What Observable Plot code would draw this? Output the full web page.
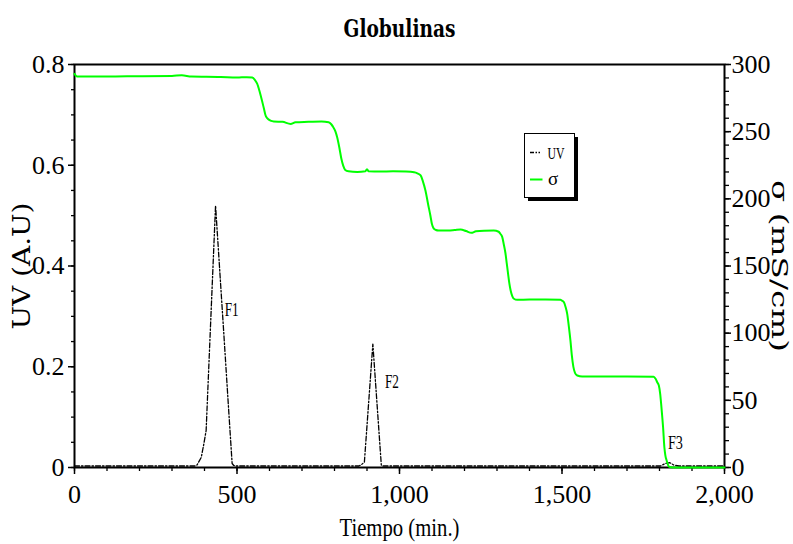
<!DOCTYPE html>
<html>
<head>
<meta charset="utf-8">
<script src="https://cdn.jsdelivr.net/npm/d3@7"></script>
<script src="https://cdn.jsdelivr.net/npm/@observablehq/plot@0.6"></script>
<style>
  html, body { margin: 0; padding: 0; background: #fff; }
  #wrap { position: relative; width: 793px; height: 544px; overflow: hidden; }
  #legend { position: absolute; left: 524px; top: 133px; }
</style>
</head>
<body>
<div id="wrap"></div>
<script>
// ---------- data ----------
const chartTitle = "Globulinas";
const xLabel = "Tiempo (min.)";
const yLeftLabel = "UV (A.U)";
const yRightLabel = "σ (mS/cm)";

const xMajorTicks = [0, 500, 1000, 1500, 2000];
const uvMajorTicks = [0, 0.2, 0.4, 0.6, 0.8];
const sigmaMajorTicks = [0, 50, 100, 150, 200, 250, 300];
const uvMax = 0.8;
const sigmaMax = 300;

// UV absorbance (dash-dot black)
const uvTime  = [0, 370, 377, 390, 398, 405, 434, 447, 460, 472, 485, 490, 497,
                 875, 882, 892, 918, 944, 948,
                 1790, 1803, 1818, 1832, 1844, 1860, 2000];
const uvValue = [0.003, 0.003, 0.005, 0.02, 0.047, 0.073, 0.52, 0.39, 0.26, 0.138, 0.008, 0.004, 0.003,
                 0.003, 0.005, 0.011, 0.245, 0.005, 0.003,
                 0.003, 0.003, 0.008, 0.0095, 0.005, 0.003, 0.003];

// Conductivity σ (green), mS/cm
const sigmaTime  = [0, 8, 100, 200, 300, 330, 360, 450, 500, 530, 547, 555, 562, 570, 577, 583, 588, 593, 598, 605, 613,
                    640, 665, 680, 720, 760, 782, 790, 797, 803, 808, 815, 821, 827, 833, 843,
                    870, 895, 900, 905, 940, 980, 1020, 1045, 1055, 1065, 1072, 1080, 1088, 1095, 1100, 1105, 1112, 1120,
                    1150, 1170, 1188, 1205, 1221, 1235, 1260, 1290, 1305, 1310, 1316, 1321, 1326, 1330, 1334, 1338, 1342, 1347, 1352, 1362,
                    1400, 1450, 1495, 1500, 1506, 1511, 1516, 1521, 1526, 1530, 1535, 1540, 1547, 1562,
                    1620, 1700, 1782, 1788, 1793, 1798, 1802, 1805, 1808, 1811, 1815, 1818, 1822, 1829, 1840, 1900, 2000];
const sigmaValue = [293, 291, 291, 291.3, 291.5, 292, 291, 290.7, 290.3, 290.6, 290.3, 288.5, 285.7, 279.5, 273, 267, 262, 260, 259, 258, 257.6,
                    257.3, 255.8, 257, 257.3, 257.6, 257, 255.5, 253, 250, 246, 238, 230, 224.5, 221.5, 220.5,
                    220, 220.5, 222, 220.5, 220.3, 220.5, 220.3, 219.8, 219, 217.4, 213, 206, 196, 187.6, 181, 178, 176.8, 176.4,
                    176.4, 176.8, 177.2, 176, 174.7, 175.8, 176.3, 176.4, 175.5, 174, 171.7, 166, 159.5, 152, 144.4, 137, 131.7, 127.5, 125.6, 124.8,
                    125, 125, 124.8, 124.2, 123, 119.5, 114.4, 105, 94.5, 84, 74.9, 70.5, 68.5, 67.7,
                    67.7, 67.7, 67.5, 66, 63.5, 61, 55, 47.6, 39, 30, 15.1, 9, 5.2, 0.7, 0, 0, 0];

// peak annotations
const peakLabels = ["F1", "F2", "F3"];
const peakTime   = [462, 955, 1826];
const peakValue  = [0.312, 0.169, 0.049];

// ---------- build ----------
const k = uvMax / sigmaMax; // sigma -> left-axis units
const uvData = uvTime.map((t, i) => ({t, v: uvValue[i]}));
const sigmaData = sigmaTime.map((t, i) => ({t, s: sigmaValue[i]}));
const peakData = peakLabels.map((name, i) => ({name, t: peakTime[i], v: peakValue[i]}));

const xMinor = d3.range(0, 2001, 100);
const uvMinor = d3.range(0, 0.8001, 0.05);
const sigmaMinor = d3.range(0, 301, 10);

const serif = "'Liberation Serif', 'Times New Roman', serif";
const wide = "'DejaVu Serif', serif";
const centered = {textAnchor: "middle", lineAnchor: "middle", fill: "black"};

const chart = Plot.plot({
  width: 793,
  height: 544,
  marginTop: 64,
  marginRight: 69,
  marginBottom: 77,
  marginLeft: 74,
  style: {fontFamily: serif, background: "white", color: "black", overflow: "visible"},
  x: {domain: [0, 2000], label: null},
  y: {domain: [0, uvMax], label: null},
  marks: [
    Plot.axisX({ticks: xMinor, tickSize: 4, tickFormat: () => "", label: null, strokeWidth: 1.3, strokeOpacity: 1}),
    Plot.axisX({ticks: xMajorTicks, tickSize: 7, tickPadding: 10, tickFormat: d3.format(","), fontSize: 26, label: null, strokeWidth: 1.5, strokeOpacity: 1}),
    Plot.axisY({anchor: "left", ticks: uvMinor, tickSize: 3, tickFormat: () => "", label: null, strokeWidth: 1.3, strokeOpacity: 1}),
    Plot.axisY({anchor: "left", ticks: uvMajorTicks, tickSize: 6, tickPadding: 4, fontSize: 26, label: null, strokeWidth: 1.5, strokeOpacity: 1,
                tickFormat: d => d === 0 ? "0" : d3.format(".1f")(d)}),
    Plot.axisY({anchor: "right", ticks: sigmaMinor.map(s => s * k), tickSize: 4, tickFormat: () => "", label: null, strokeWidth: 1.3, strokeOpacity: 1}),
    Plot.axisY({anchor: "right", ticks: sigmaMajorTicks.map(s => s * k), tickSize: 6, tickPadding: 1, fontSize: 26, label: null, strokeWidth: 1.5, strokeOpacity: 1,
                tickFormat: d => String(Math.round(d / k))}),
    Plot.frame({stroke: "black", strokeWidth: 2}),
    Plot.line(uvData, {x: "t", y: "v", stroke: "black", strokeWidth: 1.3, strokeDasharray: "5,2,1.5,2"}),
    Plot.line(sigmaData, {x: "t", y: d => d.s * k, stroke: "#00ff00", strokeWidth: 2, curve: "monotone-x"}),
    Plot.text(peakData, {x: "t", y: "v", text: "name", textAnchor: "start", lineAnchor: "middle", fontSize: 19, fontFamily: serif, fill: "black"}),
    Plot.text([chartTitle], {...centered, frameAnchor: "top", dy: -35, text: d => d, fontSize: 24, fontWeight: "bold", fontFamily: wide}),
    Plot.text([xLabel], {...centered, frameAnchor: "bottom", dy: 60, text: d => d, fontSize: 26, fontFamily: serif}),
    Plot.text([yLeftLabel], {...centered, frameAnchor: "left", dx: -52, rotate: -90, text: d => d, fontSize: 24, fontFamily: wide}),
    Plot.text([yRightLabel], {...centered, frameAnchor: "right", dx: 55, rotate: 90, text: d => d, fontSize: 22, fontFamily: wide})
  ]
});

document.getElementById("wrap").appendChild(chart);

// scale some labels horizontally (about their anchor point) to match the reference text extents
function fitWidth(el, target) {
  const natural = el.getComputedTextLength();
  if (!natural) return;
  const s = target / natural;
  const xs = el.x.baseVal;
  const ax = xs.numberOfItems ? xs.getItem(0).value : 0;
  const t = el.getAttribute("transform") || "";
  el.setAttribute("transform", `${t} translate(${ax},0) scale(${s},1) translate(${-ax},0)`);
}
const widths = {"Globulinas": 112, "UV (A.U)": 127, "σ (mS/cm)": 172, "Tiempo (min.)": 120, "F1": 14, "F2": 14, "F3": 15};
d3.select(chart).selectAll("text").each(function () {
  const txt = this.textContent;
  if (widths[txt] != null) fitWidth(this, widths[txt]);
});

// legend (box with drop shadow)
const legend = d3.select("#wrap").append("svg")
  .attr("id", "legend").attr("width", 60).attr("height", 72)
  .style("font-family", serif);
legend.append("rect").attr("x", 4).attr("y", 4).attr("width", 50).attr("height", 64).attr("fill", "black");
legend.append("rect").attr("x", 0.5).attr("y", 0.5).attr("width", 50).attr("height", 64).attr("fill", "white").attr("stroke", "black").attr("stroke-width", 1);
legend.append("line").attr("x1", 6).attr("x2", 16).attr("y1", 19.5).attr("y2", 19.5)
  .attr("stroke", "black").attr("stroke-width", 1.5).attr("stroke-dasharray", "4,1.5,1.5,1.5");
const uvText = legend.append("text").attr("x", 23.5).attr("y", 26).attr("font-size", 17).text("UV");
fitWidth(uvText.node(), 17);
legend.append("line").attr("x1", 6).attr("x2", 18.5).attr("y1", 46.5).attr("y2", 46.5)
  .attr("stroke", "#00ff00").attr("stroke-width", 2);
legend.append("text").attr("x", 24).attr("y", 52).attr("font-size", 19).text("σ");
</script>
</body>
</html>
